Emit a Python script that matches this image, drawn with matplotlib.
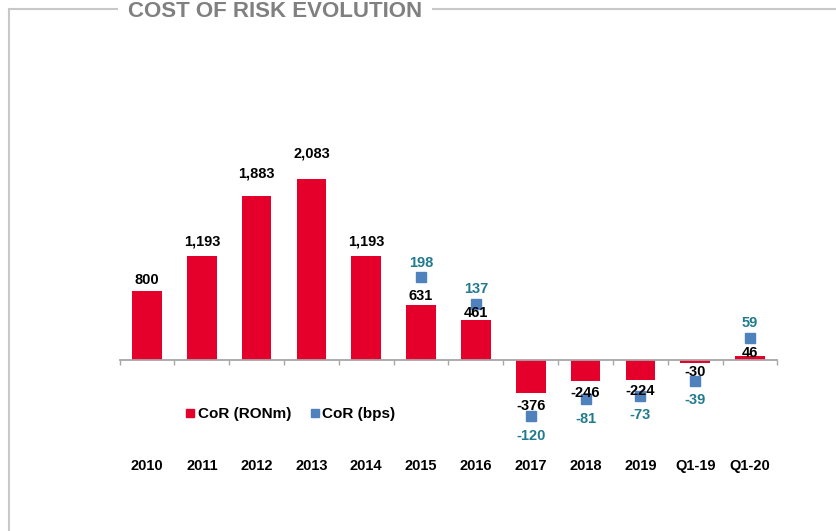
import matplotlib.pyplot as plt
from matplotlib.lines import Line2D
from matplotlib.transforms import blended_transform_factory

# --- data ---
periods = ["2010", "2011", "2012", "2013", "2014", "2015", "2016",
           "2017", "2018", "2019", "Q1-19", "Q1-20"]
cor_ronm = [800, 1193, 1883, 2083, 1193, 631, 461, -376, -246, -224, -30, 46]
bps_periods = ["2015", "2016", "2017", "2018", "2019", "Q1-19", "Q1-20"]
cor_bps = [198, 137, -120, -81, -73, -39, 59]

RED = "#E4002B"
BLUE = "#4F81BD"
TEAL = "#217A8E"
GRAY = "#C8C8C8"
W, H = 836, 531

plt.rcParams['font.family'] = ['Liberation Sans', 'DejaVu Sans']

fig = plt.figure(figsize=(W / 100, H / 100), dpi=100)

# frame around the panel
fig.add_artist(Line2D([9 / W, 1], [1 - 9 / H, 1 - 9 / H], color=GRAY, lw=1.5))
fig.add_artist(Line2D([9 / W, 9 / W], [0, 1 - 9 / H], color=GRAY, lw=1.5))
fig.text(275 / W, 1 - 17 / H, "COST OF RISK EVOLUTION", ha='center', va='baseline',
         fontsize=16, fontweight='bold', color='#808080',
         family=['Liberation Sans Narrow', 'Liberation Sans'],
         bbox=dict(facecolor='white', edgecolor='none', pad=7))

# axes: x from 119.6 to 777.4 px, y from 100 to 440 px
left, right, top, bottom = 119.6, 777.4, 100, 440
ax = fig.add_axes([left / W, 1 - bottom / H, (right - left) / W, (bottom - top) / H])
ax2 = ax.twinx()   # bps scale
ax3 = ax.twinx()   # scale the value labels sit on

x = list(range(len(periods)))
ax.bar(x, cor_ronm, width=0.54, color=RED, zorder=2)
ax.set_xlim(-0.5, len(periods) - 0.5)
ax.set_ylim(-920, 2992)
ax2.set_ylim(-175, 605)
ax3.set_ylim(-796, 2673)

xb = [periods.index(p) for p in bps_periods]
ax2.plot(xb, cor_bps, ls='none', marker='s', ms=7.3, color=BLUE, zorder=3)

for a in (ax, ax2, ax3):
    for s in ('top', 'right', 'left'):
        a.spines[s].set_visible(False)
    a.set_yticks([])
for a in (ax2, ax3):
    a.spines['bottom'].set_visible(False)
    a.set_xticks([])
ax.spines['bottom'].set_position(('data', 0))
ax.spines['bottom'].set_color('#A6A6A6')
ax.spines['bottom'].set_linewidth(1.3)
ax.set_xticks([i - 0.5 for i in range(len(periods) + 1)])
ax.set_xticklabels([])
ax.tick_params(axis='x', direction='out', length=3.6, color='#A6A6A6', width=1)

# value labels for bars
for xi, v in zip(x, cor_ronm):
    if v >= 0:
        ax3.text(xi, v, f"{v:,}", ha='center', va='baseline',
                 fontsize=10.5, fontweight='bold')
    else:
        ax3.text(xi, v, f"{v:,}", ha='center', va='top',
                 fontsize=10.5, fontweight='bold')

# value labels for bps
for xi, v in zip(xb, cor_bps):
    if v >= 0:
        ax2.annotate(f"{v}", (xi, v), xytext=(0, 7.6), textcoords='offset points',
                     ha='center', va='baseline', fontsize=10.5, fontweight='bold',
                     color=TEAL)
    else:
        ax2.annotate(f"{v}", (xi, v), xytext=(0, -9), textcoords='offset points',
                     ha='center', va='top', fontsize=10.5, fontweight='bold',
                     color=TEAL)

# category labels
tr = blended_transform_factory(ax.transData, fig.transFigure)
for xi, p in zip(x, periods):
    ax.text(xi, 1 - 466 / H, p, transform=tr, ha='center', va='center',
            fontsize=10.5, fontweight='bold')

handles = [Line2D([], [], ls='none', marker='s', ms=6, color=RED),
           Line2D([], [], ls='none', marker='s', ms=6, color=BLUE)]
leg = fig.legend(handles, ["CoR (RONm)", "CoR (bps)"], loc='center',
                 bbox_to_anchor=(290.5 / W, 1 - 414 / H), ncol=2, frameon=False,
                 handlelength=0.6, handletextpad=0.2, columnspacing=1.25,
                 prop={'weight': 'bold', 'size': 11})

fig.savefig("out.png", dpi=100)
